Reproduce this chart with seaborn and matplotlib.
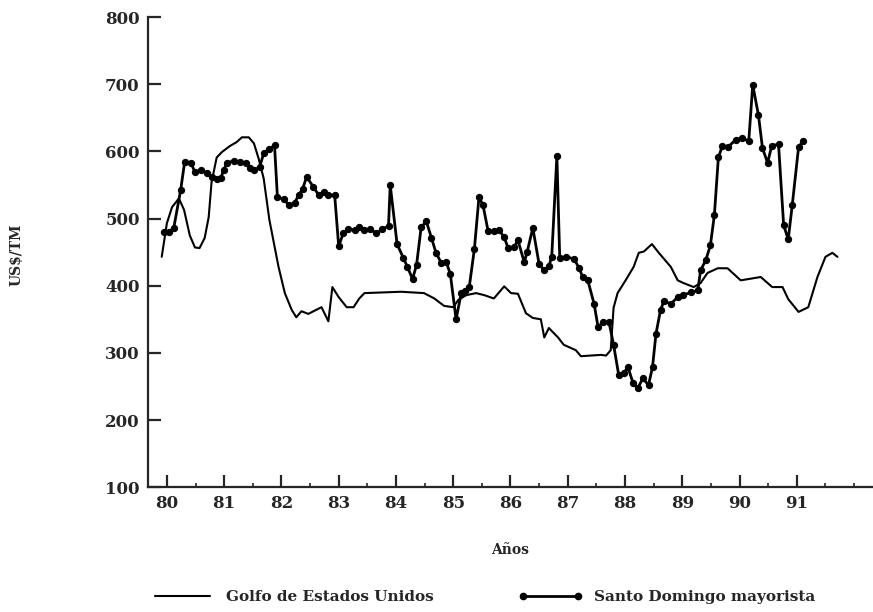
import numpy as np
import pandas as pd
import seaborn as sns
import matplotlib
matplotlib.use("Agg")
import matplotlib.pyplot as plt
from matplotlib.lines import Line2D
from matplotlib.ticker import MultipleLocator

# Golfo de Estados Unidos (linea fina)
golfo_x = [79.91, 80.00, 80.09, 80.21, 80.30, 80.40, 80.49, 80.57, 80.66, 80.73,
           80.78, 80.87, 80.96, 81.10, 81.22, 81.31, 81.43, 81.52, 81.60, 81.69,
           81.79, 81.95, 82.06, 82.18, 82.26, 82.35, 82.47, 82.56, 82.70, 82.82,
           82.89, 83.00, 83.14, 83.26, 83.36, 83.45, 84.09, 84.49, 84.67, 84.84,
           85.00, 85.09, 85.23, 85.40, 85.54, 85.71, 85.89, 86.01, 86.13, 86.27,
           86.39, 86.53, 86.59, 86.67, 86.83, 86.93, 87.14, 87.23, 87.40, 87.58,
           87.67, 87.75, 87.80, 87.87, 88.01, 88.15, 88.24, 88.33, 88.47, 88.59,
           88.80, 88.92, 89.02, 89.20, 89.32, 89.44, 89.62, 89.79, 90.02, 90.16,
           90.37, 90.57, 90.75, 90.85, 91.03, 91.20, 91.36, 91.50, 91.62, 91.71]
golfo_y = [443, 493, 517, 530, 513, 475, 457, 456, 471, 502,
           554, 591, 599, 608, 614, 621, 621, 612, 590, 560,
           498, 428, 389, 364, 353, 362, 358, 362, 368, 347,
           398, 383, 368, 368, 381, 389, 391, 389, 381, 370,
           368, 379, 386, 389, 386, 381, 399, 389, 388, 359,
           352, 350, 323, 337, 323, 312, 304, 295, 296, 297,
           296, 304, 367, 389, 408, 428, 449, 451, 462, 449,
           428, 408, 404, 398, 404, 419, 426, 426, 408, 410,
           413, 398, 398, 380, 361, 368, 413, 443, 449, 443]

# Santo Domingo mayorista (linea con puntos)
sd_x = [79.95, 80.03, 80.12, 80.24, 80.31, 80.42, 80.49, 80.59, 80.70, 80.78,
        80.87, 80.94, 80.99, 81.05, 81.17, 81.27, 81.39, 81.45, 81.53, 81.62,
        81.69, 81.78, 81.88, 81.93, 82.04, 82.13, 82.23, 82.30, 82.37, 82.44,
        82.56, 82.65, 82.74, 82.82, 82.93, 83.00, 83.08, 83.17, 83.28, 83.36,
        83.45, 83.55, 83.66, 83.76, 83.87, 83.90, 84.02, 84.13, 84.20, 84.29,
        84.36, 84.44, 84.53, 84.62, 84.70, 84.79, 84.88, 84.95, 85.05, 85.14,
        85.21, 85.28, 85.37, 85.45, 85.52, 85.61, 85.71, 85.80, 85.89, 85.96,
        86.06, 86.13, 86.24, 86.29, 86.39, 86.50, 86.59, 86.67, 86.72, 86.81,
        86.86, 86.97, 87.11, 87.20, 87.26, 87.35, 87.46, 87.53, 87.61, 87.72,
        87.80, 87.89, 87.98, 88.05, 88.14, 88.22, 88.31, 88.41, 88.48, 88.54,
        88.62, 88.68, 88.80, 88.92, 89.01, 89.15, 89.27, 89.32, 89.41, 89.49,
        89.56, 89.63, 89.70, 89.79, 89.93, 90.05, 90.16, 90.23, 90.33, 90.40,
        90.49, 90.56, 90.68, 90.77, 90.85, 90.92, 91.03, 91.10]
sd_y = [480, 480, 486, 542, 584, 583, 569, 572, 568, 562,
        559, 560, 572, 583, 586, 584, 583, 575, 572, 577,
        597, 603, 609, 532, 529, 520, 523, 535, 544, 562,
        547, 535, 539, 535, 535, 459, 478, 484, 483, 487,
        483, 484, 478, 484, 489, 550, 462, 441, 428, 410,
        431, 487, 496, 471, 449, 434, 435, 417, 350, 389,
        392, 398, 455, 532, 520, 481, 481, 483, 472, 456,
        457, 468, 435, 450, 486, 432, 423, 429, 443, 593,
        441, 443, 440, 426, 413, 408, 373, 338, 346, 346,
        312, 267, 270, 279, 255, 247, 262, 252, 279, 328,
        364, 377, 373, 383, 386, 390, 393, 423, 438, 460,
        505, 591, 608, 606, 617, 620, 615, 699, 654, 605,
        583, 608, 611, 490, 469, 520, 606, 615]

year_ticks = list(range(80, 92))
y_ticks = list(range(100, 900, 100))
series_names = ["Golfo de Estados Unidos", "Santo Domingo mayorista"]

df_golfo = pd.DataFrame({"anio": golfo_x, "precio": golfo_y})
df_sd = pd.DataFrame({"anio": sd_x, "precio": sd_y})

sns.set_style("ticks")
plt.rcParams["font.family"] = ["DejaVu Serif"]
plt.rcParams["font.weight"] = "bold"

fig = plt.figure(figsize=(8.73, 6.12), dpi=100)
ax = fig.add_axes([0.1695, 0.204, 0.8305, 0.768])

sns.lineplot(data=df_golfo, x="anio", y="precio", ax=ax, color="black",
             linewidth=1.5, sort=False, estimator=None)
sns.lineplot(data=df_sd, x="anio", y="precio", ax=ax, color="black",
             linewidth=2.0, marker="o", markersize=4.5, sort=False, estimator=None,
             markeredgecolor="black")

ax.set_xlim(79.67, 92.33)
ax.set_ylim(100, 800)
ax.set_xticks(year_ticks)
ax.set_xticklabels([str(t) for t in year_ticks])
ax.xaxis.set_minor_locator(MultipleLocator(0.5))
ax.set_yticks(y_ticks)
ax.set_yticklabels([str(t) for t in y_ticks])

for s in ["top", "right"]:
    ax.spines[s].set_visible(False)
ax.spines["left"].set_linewidth(1.6)
ax.spines["bottom"].set_linewidth(1.6)

ax.tick_params(axis="both", which="major", direction="in", length=9, width=1.6,
               labelsize=12, pad=6)
ax.tick_params(axis="x", which="minor", direction="in", length=3, width=1.2)
for lab in ax.get_xticklabels() + ax.get_yticklabels():
    lab.set_fontweight("bold")

ax.set_xlabel("Años", fontsize=10, fontweight="bold", labelpad=22)
ax.set_ylabel("US$/TM", fontsize=10, fontweight="bold")
ax.yaxis.set_label_coords(-0.172, 0.494)

# leyenda: dos entradas colocadas por separado
h_golfo = Line2D([0], [0], color="black", linewidth=1.5)
h_sd = Line2D([0], [0], color="black", linewidth=2.0, marker="o", markersize=4.5)
for h, name, x0 in [(h_golfo, series_names[0], 150 / 873),
                    (h_sd, series_names[1], 518 / 873)]:
    fig.legend([h], [name], loc="center left", bbox_to_anchor=(x0, 0.0245),
               frameon=False, borderpad=0, borderaxespad=0, handlelength=4.2,
               handletextpad=0.8, numpoints=2,
               prop={"size": 11, "weight": "bold"})

fig.savefig("out.png", dpi=100)
